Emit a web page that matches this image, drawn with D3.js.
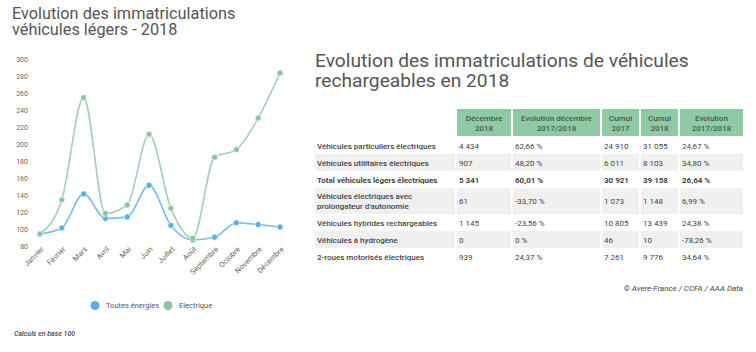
<!DOCTYPE html>
<html>
<head>
<meta charset="utf-8">
<script src="https://cdn.jsdelivr.net/npm/d3@7"></script>
<style>
  body { margin: 0; background: #fff; }
  svg { display: block; font-family: Roboto, "Noto Sans", sans-serif; }
</style>
</head>
<body>
<svg id="chart" width="756" height="352"></svg>
<script>
// months on the x axis
const months = ["Janvier", "Février", "Mars", "Avril", "Mai", "Juin", "Juillet", "Août",
  "Septembre", "Octobre", "Novembre", "Décembre"];
// base 100 indices
const toutesEnergies = [95, 102, 142, 113, 115, 152, 105, 88, 91, 108, 106, 103];
const electrique = [95, 135, 255, 119, 129, 212, 125, 90, 185, 194, 231, 284];
const yTicks = [80, 100, 120, 140, 160, 180, 200, 220, 240, 260, 280, 300];

// table
const headers = [["Décembre", "2018"], ["Evolution décembre", "2017/2018"], ["Cumul", "2017"],
  ["Cumul", "2018"], ["Evolution", "2017/2018"]];
const rowLabels = [["Véhicules particuliers électriques"], ["Véhicules utilitaires électriques"],
  ["Total véhicules légers électriques"], ["Véhicules électriques avec", "prolongateur d'autonomie"],
  ["Véhicules hybrides rechargeables"], ["Véhicules à hydrogène"], ["2-roues motorisés électriques"]];
const dec2018 = ["4 434", "907", "5 341", "61", "1 145", "0", "939"];
const evolDec = ["62,66 %", "48,20 %", "60,01 %", "-33,70 %", "-23,56 %", "0 %", "24,37 %"];
const cumul2017 = ["24 910", "6 011", "30 921", "1 073", "10 805", "46", "7 261"];
const cumul2018 = ["31 055", "8 103", "39 158", "1 148", "13 439", "10", "9 776"];
const evolCumul = ["24,67 %", "34,80 %", "26,64 %", "6,99 %", "24,38 %", "-78,26 %", "34,64 %"];
const boldRow = 2;

const blue = "#5aaee3", green = "#8cc4a0";
const svg = d3.select("#chart");

// ---- left: line chart ----
svg.append("text").attr("x", 12).attr("y", 19).attr("font-size", 16.3).attr("fill", "#555")
  .text("Evolution des immatriculations");
svg.append("text").attr("x", 12).attr("y", 35).attr("font-size", 16.3).attr("fill", "#555")
  .text("véhicules légers - 2018");

const x = d3.scalePoint().domain(months).range([40, 280]);
const y = d3.scaleLinear().domain([80, 300]).range([246.7, 59.3]);

const yAxis = svg.append("g").attr("transform", "translate(28,0)")
  .call(d3.axisLeft(y).tickValues(yTicks).tickSize(0).tickPadding(0));
yAxis.select(".domain").remove();
yAxis.selectAll("text").attr("font-size", 7).attr("fill", "#666").attr("font-family", "Roboto");

const xAxis = svg.append("g").attr("transform", "translate(0,248)")
  .call(d3.axisBottom(x).tickSize(0).tickPadding(0));
xAxis.select(".domain").remove();
xAxis.selectAll("text").attr("font-size", 7.5).attr("fill", "#666").attr("font-family", "Roboto")
  .attr("text-anchor", "end").attr("dy", "0.5em").attr("dx", "0.2em")
  .attr("transform", "rotate(-45)");

const line = d3.line().x((d, i) => x(months[i])).y(d => y(d)).curve(d3.curveMonotoneX);
const series = [
  { name: "Toutes énergies", values: toutesEnergies, color: blue },
  { name: "Electrique", values: electrique, color: green }
];
series.forEach(s => {
  svg.append("path").attr("d", line(s.values)).attr("fill", "none")
    .attr("stroke", s.color).attr("stroke-opacity", 0.8).attr("stroke-width", 1.6);
  svg.append("g").selectAll("circle").data(s.values).join("circle")
    .attr("cx", (d, i) => x(months[i])).attr("cy", d => y(d)).attr("r", 3)
    .attr("fill", s.color).attr("stroke", "#fff").attr("stroke-width", 0.6);
});

// legend
const legend = svg.append("g").selectAll("g").data(series).join("g")
  .attr("transform", (d, i) => `translate(${[95, 168][i]},305.5)`);
legend.append("circle").attr("r", 4.5).attr("fill", d => d.color);
legend.append("text").attr("x", 11).attr("dy", "0.35em").attr("font-size", 7.5)
  .attr("fill", "#555").text(d => d.name);

svg.append("text").attr("x", 14).attr("y", 336).attr("font-size", 7).attr("font-style", "italic")
  .attr("font-weight", 500).attr("fill", "#444").text("Calculs en base 100");

// ---- right: table ----
svg.append("text").attr("x", 315).attr("y", 67).attr("font-size", 19.2).attr("fill", "#555")
  .text("Evolution des immatriculations de véhicules");
svg.append("text").attr("x", 315).attr("y", 87).attr("font-size", 19.2).attr("fill", "#555")
  .text("rechargeables en 2018");

const colEdges = [[315, 455], [457, 511], [513, 600], [602, 639], [641, 678], [680, 743]];
const columns = [dec2018, evolDec, cumul2017, cumul2018, evolCumul];
const table = svg.append("g").attr("font-size", 8).attr("fill", "#444");

// header
headers.forEach((h, c) => {
  const [x0, x1] = colEdges[c + 1];
  table.append("rect").attr("x", x0).attr("y", 109).attr("width", x1 - x0).attr("height", 27)
    .attr("fill", "#8fcaa5");
  table.append("text").attr("x", (x0 + x1) / 2).attr("text-anchor", "middle")
    .attr("font-weight", 500).attr("fill", "#4a5a50")
    .selectAll("tspan").data(h).join("tspan")
    .attr("x", (x0 + x1) / 2).attr("y", (d, i) => 120.5 + i * 10).text(d => d);
});

// rows
let rowTop = 137;
rowLabels.forEach((lab, r) => {
  const h = lab.length > 1 ? 26 : 17;
  const mid = rowTop + h / 2;
  const weight = r === boldRow ? 700 : 500;
  if (r % 2 === 1) {
    colEdges.forEach(([x0, x1]) => {
      table.append("rect").attr("x", x0).attr("y", rowTop).attr("width", x1 - x0).attr("height", h)
        .attr("fill", "#f0f0f0");
    });
  }
  table.append("text").attr("font-weight", weight)
    .selectAll("tspan").data(lab).join("tspan")
    .attr("x", colEdges[0][0] + 2)
    .attr("y", (d, i) => mid + 3 + (i - (lab.length - 1) / 2) * 9.5).text(d => d);
  columns.forEach((col, c) => {
    table.append("text").attr("x", colEdges[c + 1][0] + 2).attr("y", mid + 3)
      .attr("font-weight", r === boldRow ? 700 : 400).text(col[r]);
  });
  rowTop += h;
});

svg.append("text").attr("x", 743).attr("y", 291).attr("text-anchor", "end")
  .attr("font-size", 8).attr("font-style", "italic").attr("fill", "#444")
  .text("© Avere-France / CCFA / AAA Data");
</script>
</body>
</html>
